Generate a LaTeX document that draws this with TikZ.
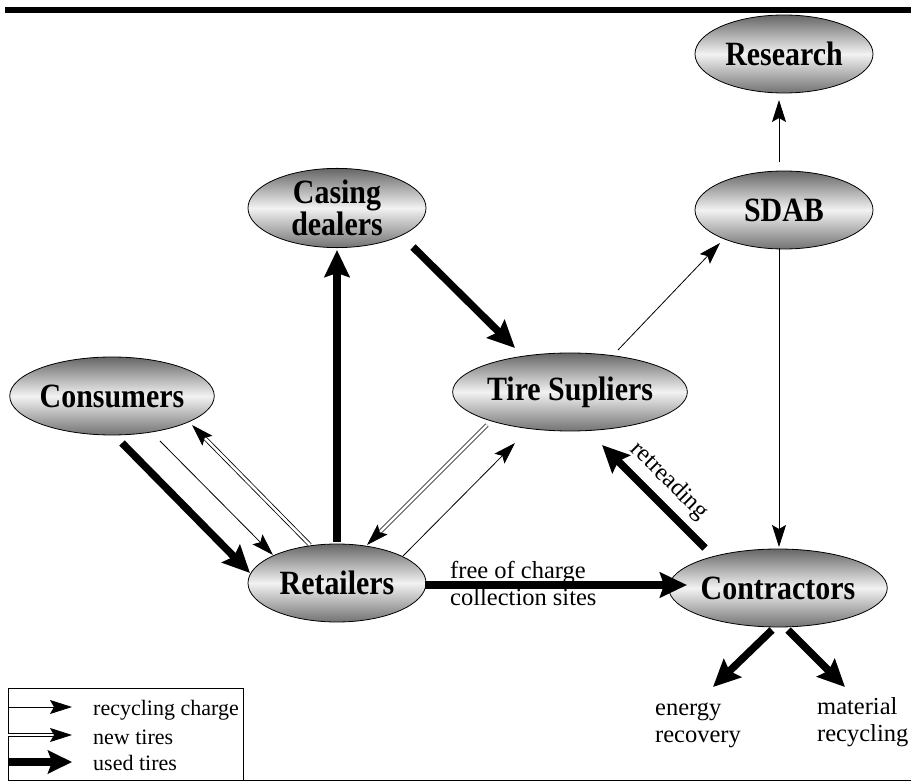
\documentclass[tikz,border=0pt]{standalone}
\usepackage{fontspec}
\setmainfont{Liberation Serif}
\newfontfamily\namefam[FakeStretch=0.88]{Liberation Serif}
\usetikzlibrary{arrows.meta,shapes.geometric}
\newcommand*\namefont{\namefam\fontsize{34}{29}\selectfont\bfseries}
\newcommand*\lblfont{\fontsize{24.5}{27}\selectfont}
\newcommand*\keyfont{\fontsize{22}{24}\selectfont}

\begin{document}
\begin{tikzpicture}[x=1pt,y=-1pt,inner sep=0pt,
		rc/.style={-{Stealth[length=22pt,width=14pt,inset=4pt]},line width=0.8pt},
		nt/.style={rc,double,double distance=2.6pt},
		ut/.style={-{Stealth[length=27pt,width=25pt,inset=4pt]},line width=7.5pt}]
		\tikzstyle{actor}=[ellipse,draw=black,line width=0.8pt,top color=black!60,
			bottom color=black!55,middle color=black!5,minimum width=178pt,
			minimum height=78pt,align=center,font=\namefont]

		\useasboundingbox (0,0) rectangle (911,783);
		\draw[line width=6pt] (5,10) -- (911,10);

		\node[actor] (res)  at (784,54)  {Research};
		\node[actor] (sdab) at (784,210) {SDAB};
		\node[actor] (cas)  at (337,208) {Casing\\dealers};
		\node[actor] (cons) at (112,396) {Consumers};
		\node[actor,minimum width=191pt] (tire) at (570,392) {Tire Supliers};
		\node[actor] (ret)  at (337,583) {Retailers};
		\node[actor] (con)  at (778,588) {Contractors};

		\node[anchor=west,align=left,font=\lblfont] (free) at (450,583) {free of charge\\collection sites};
		\node[anchor=west,align=left,font=\lblfont] (energy) at (655,725) {energy\\recovery};
		\node[anchor=west,align=left,font=\lblfont] (mat) at (817,722) {material\\recycling};
		\coordinate (entip) at (713,687);
		\coordinate (matip) at (845,687);

		% consumers <-> retailers
		\draw[ut] ([shift={(10,47)}]cons.center) -- ([shift={(-87,-10)}]ret.center);
		\draw[rc] ([shift={(48,45)}]cons.center) -- ([shift={(-64,-28)}]ret.center);
		\draw[nt] ([shift={(-27,-38)}]ret.center) -- ([shift={(80,29)}]cons.center);
		% retailers -> casing -> tire supliers
		\draw[ut] ([shift={(0,-41)}]ret.center) -- ([shift={(0,42)}]cas.center);
		\draw[ut] ([shift={(76,39)}]cas.center) -- ([shift={(-55,-44)}]tire.center);
		% tire supliers <-> retailers
		\draw[nt] ([shift={(-83,33)}]tire.center) -- ([shift={(30,-38)}]ret.center);
		\draw[rc] ([shift={(66,-27)}]ret.center) -- ([shift={(-55,51)}]tire.center);
		% SDAB
		\draw[rc] ([shift={(48,-42)}]tire.center) -- ([shift={(-64,33)}]sdab.center);
		\draw[rc] ([shift={(-5,-48)}]sdab.center) -- ([shift={(-5,46)}]res.center);
		\draw[rc] ([shift={(-5,38)}]sdab.center) -- ([shift={(1,-41)}]con.center);
		% contractors
		\draw[ut] ([shift={(88,2)}]ret.center) -- ([shift={(-91,-3)}]con.center);
		\draw[ut] ([shift={(-73,-40)}]con.center) -- node[sloped,above,inner sep=7pt,font=\lblfont] (retr) {retreading} ([shift={(32,53)}]tire.center);
		\draw[ut] ([shift={(-6,42)}]con.center) -- (entip);
		\draw[ut] ([shift={(10,42)}]con.center) -- (matip);

		% legend
		\draw[line width=0.8pt] (8,688) rectangle (243,780);
		\draw[line width=0.8pt] (243,780) -- (911,780);
		\coordinate (k1) at (8,707);  \coordinate (k1e) at (72,707);
		\coordinate (k2) at (8,735);  \coordinate (k2e) at (72,735);
		\coordinate (k3) at (8,762);  \coordinate (k3e) at (72,762);
		\draw[rc] (k1) -- (k1e);
		\draw[nt] (k2) -- (k2e);
		\draw[ut,-{Stealth[length=24pt,width=23pt,inset=4pt]}] (k3) -- (k3e);
		\node[anchor=west,font=\keyfont] (key1) at (93,710) {recycling charge};
		\node[anchor=west,font=\keyfont] (key2) at (93,737) {new tires};
		\node[anchor=west,font=\keyfont] (key3) at (93,763) {used tires};
\end{tikzpicture}
\end{document}
